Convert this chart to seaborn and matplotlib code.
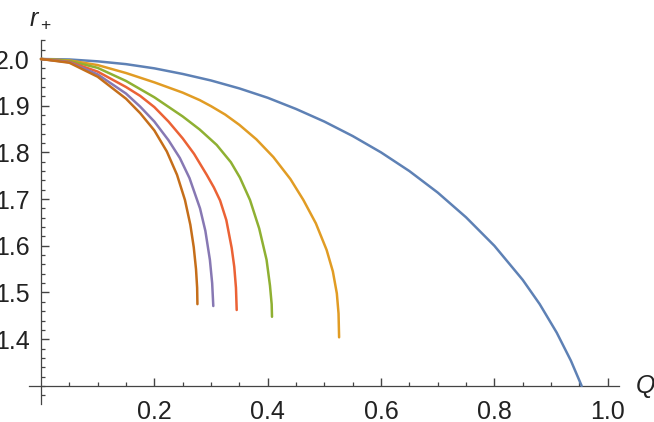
import matplotlib
matplotlib.use("Agg")
import matplotlib.pyplot as plt
import seaborn as sns
import pandas as pd
import numpy as np

# values (Q, r_+) for each curve
q_blue = [0, 0.05, 0.1, 0.15, 0.2, 0.25, 0.3, 0.35, 0.4, 0.45, 0.5, 0.55, 0.6, 0.65, 0.7,
          0.75, 0.8, 0.85, 0.88, 0.91, 0.935, 0.954]
r_blue = [2.0, 1.999, 1.995, 1.989, 1.980, 1.968, 1.954, 1.937, 1.917, 1.893, 1.866, 1.835,
          1.800, 1.760, 1.714, 1.661, 1.600, 1.527, 1.475, 1.414, 1.354, 1.300]

q_orange = [0, 0.05, 0.1, 0.15, 0.2, 0.25, 0.28, 0.3, 0.325, 0.35, 0.38, 0.41, 0.44, 0.463,
            0.485, 0.504, 0.515, 0.522, 0.525, 0.526]
r_orange = [2.0, 1.997, 1.987, 1.970, 1.950, 1.928, 1.912, 1.899, 1.881, 1.859, 1.828, 1.790,
            1.743, 1.698, 1.648, 1.591, 1.545, 1.498, 1.455, 1.404]

q_green = [0, 0.05, 0.1, 0.15, 0.2, 0.25, 0.28, 0.31, 0.335, 0.351, 0.3688, 0.385, 0.398,
           0.404, 0.407, 0.4076]
r_green = [2.0, 1.996, 1.981, 1.953, 1.918, 1.877, 1.849, 1.816, 1.779, 1.746, 1.698, 1.637,
           1.570, 1.515, 1.475, 1.448]

q_red = [0, 0.05, 0.1, 0.15, 0.175, 0.2, 0.225, 0.25, 0.27, 0.2924, 0.305, 0.316, 0.327,
         0.3365, 0.341, 0.344, 0.3453]
r_red = [2.0, 1.994, 1.973, 1.940, 1.921, 1.897, 1.866, 1.830, 1.797, 1.752, 1.725, 1.697,
         1.655, 1.595, 1.555, 1.510, 1.4625]

q_purple = [0, 0.05, 0.1, 0.15, 0.175, 0.2, 0.225, 0.245, 0.262, 0.2806, 0.29, 0.298, 0.302, 0.304]
r_purple = [2.0, 1.993, 1.967, 1.926, 1.898, 1.866, 1.826, 1.788, 1.745, 1.680, 1.632, 1.570,
            1.520, 1.471]

q_brown = [0, 0.05, 0.1, 0.15, 0.175, 0.2, 0.222, 0.24, 0.254, 0.2635, 0.2695, 0.2735, 0.2755, 0.276]
r_brown = [2.0, 1.992, 1.962, 1.915, 1.884, 1.847, 1.802, 1.752, 1.698, 1.645, 1.597, 1.550,
           1.510, 1.475]

# tick positions and labels
x_major = [0.2, 0.4, 0.6, 0.8, 1.0]
x_labels = ["0.2", "0.4", "0.6", "0.8", "1.0"]
y_major = [1.4, 1.5, 1.6, 1.7, 1.8, 1.9, 2.0]
y_labels = ["1.4", "1.5", "1.6", "1.7", "1.8", "1.9", "2.0"]
x_minor = np.round(np.arange(0.05, 1.01, 0.05), 2)
y_minor = np.round(np.arange(1.28, 2.041, 0.02), 2)
x_minor = [v for v in x_minor if v not in x_major]
y_minor = [v for v in y_minor if v not in y_major]

curves = [(q_blue, r_blue, "#5E81B5"),
          (q_orange, r_orange, "#E19C24"),
          (q_green, r_green, "#8FB032"),
          (q_red, r_red, "#EB6235"),
          (q_purple, r_purple, "#8778B3"),
          (q_brown, r_brown, "#C56E1A")]

sns.set_theme(style="ticks")
plt.rcParams['font.family'] = ['Liberation Sans', 'DejaVu Sans']
plt.rcParams['mathtext.fontset'] = 'custom'
plt.rcParams['mathtext.it'] = 'Liberation Sans:italic'
plt.rcParams['mathtext.rm'] = 'Liberation Sans'

fig = plt.figure(figsize=(6.54, 4.22), dpi=100)
ax = fig.add_axes([29/654, 1-404/422, 590/654, 364/422])

for q, r, c in curves:
    df = pd.DataFrame({"Q": q, "r": r})
    sns.lineplot(data=df, x="Q", y="r", color=c, linewidth=1.8, sort=False,
                 estimator=None, ax=ax, zorder=3)

ax.set_xlim(-0.0212, 1.0199)
ax.set_ylim(1.2612, 2.0407)

# mathematica style axes crossing at (0, 1.3)
ax.spines['top'].set_visible(False)
ax.spines['right'].set_visible(False)
ax.spines['left'].set_position(('data', 0))
ax.spines['bottom'].set_position(('data', 1.3))
for s in ['left', 'bottom']:
    ax.spines[s].set_color('#444444')
    ax.spines[s].set_linewidth(0.9)

ax.set_xticks(x_major)
ax.set_xticklabels(x_labels)
ax.set_yticks(y_major)
ax.set_yticklabels(y_labels)
ax.set_xlabel("")
ax.set_ylabel("")
ax.tick_params(axis='both', which='major', length=0, labelsize=18, labelcolor='#222222')
ax.tick_params(axis='x', which='major', pad=10)
ax.tick_params(axis='y', which='major', pad=8)

# tick marks pointing into the plot, drawn as tick markers on the axis lines
ax.plot(x_major, [1.3] * len(x_major), ls='none', marker=2, ms=5.5, mew=1.0,
        color='#444444', clip_on=False, zorder=2)
ax.plot(x_minor, [1.3] * len(x_minor), ls='none', marker=2, ms=3.2, mew=0.9,
        color='#444444', clip_on=False, zorder=2)
ax.plot([0] * len(y_major), y_major, ls='none', marker=1, ms=5.5, mew=1.0,
        color='#444444', clip_on=False, zorder=2)
ax.plot([0] * len(y_minor), y_minor, ls='none', marker=1, ms=3.2, mew=0.9,
        color='#444444', clip_on=False, zorder=2)

fig.text(40/654, 1-19/422, r'$r_+$', ha='center', va='center', fontsize=18, color='#222222')
fig.text(645/654, 1-387/422, r'$Q$', ha='center', va='center', fontsize=18, color='#222222')

plt.savefig("out.png", dpi=100)
